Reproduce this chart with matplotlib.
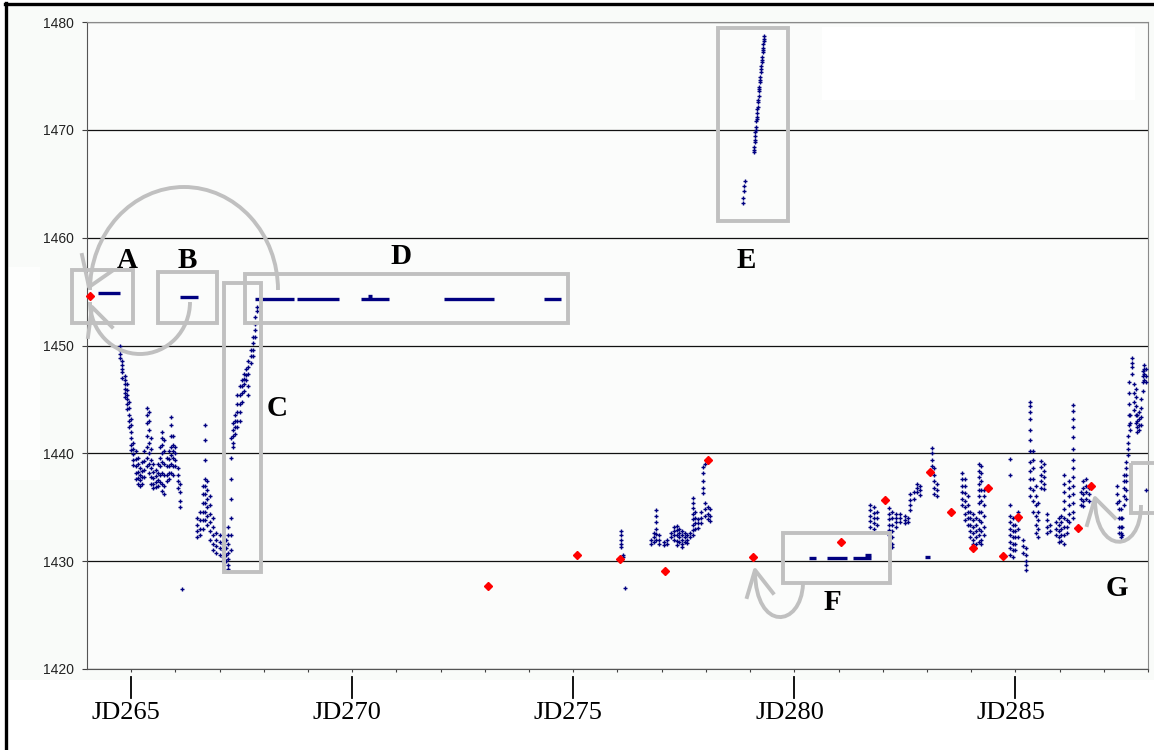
import matplotlib.pyplot as plt
from matplotlib.patches import Rectangle, Arc, PathPatch
from matplotlib.path import Path
from matplotlib.transforms import blended_transform_factory

# daily points (red diamonds)
red_x = [264.07, 273.06, 275.08, 276.05, 277.07, 278.05, 279.07, 281.06, 282.04,
         283.06, 283.54, 284.05, 284.39, 284.73, 285.07, 286.41, 286.70]
red_y = [1454.6, 1427.7, 1430.6, 1430.2, 1429.1, 1439.4, 1430.4, 1431.8, 1435.7,
         1438.3, 1434.6, 1431.2, 1436.8, 1430.5, 1434.1, 1433.1, 1437.0]

# flat runs of the blue series (A, B, D, F)
flat_start = [264.25, 266.11, 267.81, 268.74, 270.19, 270.35, 272.07, 274.33,
              280.34, 280.75, 281.33, 281.60, 282.96]
flat_end = [264.75, 266.52, 268.69, 269.69, 270.84, 270.45, 273.20, 274.72,
            280.50, 281.20, 281.74, 281.74, 283.07]
flat_level = [1454.9, 1454.5, 1454.3, 1454.3, 1454.3, 1454.6, 1454.3, 1454.3,
              1430.3, 1430.3, 1430.3, 1430.6, 1430.4]

# blue series, read column by column: (day, [values])
early_cols = [
    (264.75, [1450.0, 1449.6, 1449.2, 1448.8]),
    (264.80, [1448.6, 1448.2, 1447.8, 1447.5, 1447.0]),
    (264.85, [1447.2, 1446.8, 1446.4, 1446.0, 1445.6, 1445.2]),
    (264.90, [1446.4, 1445.9, 1445.4, 1445.0, 1444.6, 1444.1]),
    (264.95, [1444.8, 1444.2, 1443.6, 1443.0, 1442.4]),
    (265.00, [1443.2, 1442.6, 1442.0, 1441.4, 1440.8, 1440.3]),
    (265.05, [1441.0, 1440.4, 1439.9, 1439.4, 1438.9]),
    (265.10, [1440.2, 1439.5, 1438.8, 1438.2, 1437.6]),
    (265.15, [1439.6, 1439.0, 1438.3, 1437.7, 1437.2]),
    (265.20, [1438.6, 1438.0, 1437.5, 1437.0]),
    (265.25, [1439.2, 1438.4, 1437.8, 1437.2]),
    (265.30, [1440.2, 1439.3, 1438.5, 1437.8]),
    (265.35, [1444.2, 1443.6, 1442.8, 1441.6, 1440.6, 1439.6, 1438.8]),
    (265.40, [1443.8, 1443.0, 1442.2, 1441.0, 1440.0, 1439.0, 1438.2]),
    (265.45, [1441.4, 1440.4, 1439.4, 1438.6, 1437.8, 1437.2]),
    (265.50, [1439.0, 1438.3, 1437.7, 1437.2, 1436.8]),
    (265.55, [1438.5, 1437.9, 1437.3, 1436.9]),
    (265.60, [1439.0, 1438.2, 1437.5, 1437.0]),
    (265.65, [1440.6, 1439.6, 1438.8, 1438.0, 1437.3]),
    (265.70, [1442.0, 1441.4, 1440.8, 1440.0, 1439.2, 1438.2, 1437.2, 1436.5]),
    (265.75, [1441.2, 1440.2, 1439.0, 1438.0, 1437.0, 1436.2]),
    (265.80, [1439.6, 1438.8, 1438.0, 1437.4]),
    (265.85, [1440.2, 1439.5, 1438.8, 1438.2, 1437.6]),
    (265.90, [1443.4, 1442.6, 1441.6, 1440.6, 1439.8, 1439.0, 1438.2]),
    (265.95, [1441.6, 1440.8, 1440.2, 1439.6, 1438.8, 1438.0]),
    (266.00, [1440.6, 1440.0, 1439.4, 1438.8]),
    (266.05, [1438.6, 1438.0, 1437.4, 1436.8]),
    (266.10, [1437.2, 1436.4, 1435.6, 1435.0]),
    (266.14, [1427.4]),
    (266.48, [1434.0, 1433.4, 1432.8, 1432.2]),
    (266.55, [1434.6, 1433.8, 1433.0, 1432.4]),
    (266.62, [1437.0, 1436.2, 1435.4, 1434.6, 1433.8, 1433.0]),
    (266.67, [1442.6, 1441.2, 1439.4, 1437.6, 1437.0, 1436.2, 1435.4, 1434.6, 1433.8]),
    (266.72, [1437.4, 1436.6, 1435.8, 1435.0, 1434.2, 1433.4]),
    (266.78, [1436.0, 1435.2, 1434.4, 1433.6, 1432.8, 1432.0]),
    (266.85, [1434.0, 1433.2, 1432.4, 1431.6, 1431.0]),
    (266.92, [1432.6, 1432.0, 1431.4, 1430.8]),
    (267.00, [1432.4, 1431.8, 1431.2, 1430.6]),
    (267.07, [1431.6, 1431.0, 1430.4, 1430.0]),
    (267.14, [1432.0, 1431.2, 1430.6, 1430.0]),
    (267.20, [1433.2, 1432.4, 1431.6, 1430.8, 1430.2, 1429.6, 1429.3]),
    (267.26, [1441.4, 1439.6, 1437.6, 1435.8, 1434.0, 1432.4, 1431.0]),
    (267.30, [1442.8, 1442.2, 1441.6, 1441.0, 1440.6]),
    (267.35, [1443.6, 1443.0, 1442.4, 1441.8]),
    (267.40, [1445.4, 1444.6, 1443.8, 1443.0, 1442.4]),
    (267.45, [1446.2, 1445.4, 1444.6, 1443.8, 1443.0]),
    (267.50, [1446.8, 1446.2, 1445.6, 1444.8]),
    (267.55, [1447.4, 1446.9, 1446.4, 1445.8]),
    (267.60, [1447.8, 1447.3, 1446.8]),
    (267.65, [1448.6, 1448.0, 1447.4, 1446.2, 1445.4]),
    (267.70, [1449.6, 1449.0, 1448.4]),
    (267.75, [1450.8, 1450.2, 1449.6, 1449.0]),
    (267.80, [1452.6, 1452.0, 1451.4, 1450.8]),
    (267.84, [1453.6, 1453.2]),
]

mid_cols = [
    (276.08, [1432.8, 1432.4, 1432.0, 1431.6, 1431.3]),
    (276.12, [1430.6, 1430.4]),
    (276.17, [1427.5]),
    (276.75, [1432.0, 1431.6]),
    (276.82, [1432.6, 1432.2, 1431.8]),
    (276.87, [1434.7, 1434.2, 1433.6, 1433.0, 1432.5, 1432.0]),
    (276.95, [1432.4, 1432.0, 1431.6]),
    (277.05, [1431.8, 1431.5]),
    (277.12, [1432.0, 1431.6]),
    (277.22, [1432.6, 1432.2]),
    (277.28, [1433.2, 1432.8, 1432.4, 1432.0]),
    (277.34, [1433.3, 1432.9, 1432.4, 1431.9, 1431.5]),
    (277.40, [1433.0, 1432.6, 1432.2, 1431.8]),
    (277.46, [1432.8, 1432.4, 1432.0, 1431.6, 1431.3]),
    (277.52, [1432.6, 1432.2, 1431.8]),
    (277.58, [1432.4, 1432.0, 1431.7]),
    (277.64, [1432.6, 1432.2]),
    (277.71, [1435.9, 1435.4, 1434.9, 1434.4, 1433.9, 1433.4, 1432.9, 1432.4]),
    (277.76, [1434.6, 1434.0, 1433.5, 1433.0]),
    (277.82, [1433.9, 1433.5, 1433.1]),
    (277.88, [1434.6, 1434.0, 1433.5]),
    (277.94, [1438.7, 1438.2, 1437.4, 1436.8, 1436.3]),
    (277.98, [1439.0, 1435.4, 1434.8, 1434.2]),
    (278.04, [1435.0, 1434.4, 1433.9]),
    (278.10, [1434.8, 1434.2, 1433.7]),
]

# run E
e_x = [278.84, 278.85, 278.86, 278.87, 278.88,
       279.08, 279.085, 279.09, 279.10, 279.105, 279.11, 279.12, 279.125, 279.13,
       279.14, 279.145, 279.15, 279.16, 279.165, 279.17, 279.18, 279.185, 279.19,
       279.20, 279.205, 279.21, 279.22, 279.225, 279.23, 279.24, 279.245, 279.25,
       279.26, 279.265, 279.27, 279.28, 279.285, 279.29, 279.30, 279.305, 279.31,
       279.32]
e_y = [1463.2, 1463.7, 1464.3, 1464.8, 1465.3,
       1467.9, 1468.1, 1468.4, 1468.9, 1469.1, 1469.4, 1469.8, 1470.0, 1470.3,
       1470.8, 1471.0, 1471.2, 1471.6, 1471.9, 1472.1, 1472.6, 1472.8, 1473.1,
       1473.6, 1473.8, 1474.0, 1474.4, 1474.6, 1474.9, 1475.4, 1475.6, 1475.9,
       1476.3, 1476.5, 1476.8, 1477.2, 1477.4, 1477.6, 1478.0, 1478.2, 1478.4,
       1478.7]

late_cols = [
    (281.72, [1435.2, 1434.7, 1434.2, 1433.7, 1433.2]),
    (281.80, [1435.0, 1434.5, 1434.0, 1433.5, 1433.0]),
    (281.86, [1434.6, 1434.0, 1433.4]),
    (282.15, [1434.9, 1434.4, 1433.9, 1433.4, 1432.9, 1432.4]),
    (282.22, [1434.6, 1434.0, 1433.4, 1432.8, 1432.2, 1431.6, 1431.3]),
    (282.30, [1434.4, 1434.0, 1433.6, 1433.2]),
    (282.40, [1434.4, 1434.0, 1433.6]),
    (282.50, [1434.2, 1433.8, 1433.5]),
    (282.58, [1434.0, 1433.6]),
    (282.62, [1436.2, 1435.7, 1435.2, 1434.7]),
    (282.70, [1436.4, 1435.8]),
    (282.78, [1437.2, 1436.8, 1436.4]),
    (282.84, [1437.0, 1436.6, 1436.1]),
    (283.12, [1440.5, 1440.0, 1439.4, 1438.8]),
    (283.17, [1438.6, 1438.0, 1437.4, 1436.8, 1436.2]),
    (283.22, [1437.2, 1436.6, 1436.0]),
    (283.80, [1438.2, 1437.6, 1437.0, 1436.4, 1435.8, 1435.2]),
    (283.86, [1437.6, 1437.0, 1436.3, 1435.6, 1435.0, 1434.4, 1433.8]),
    (283.92, [1436.0, 1435.2, 1434.6, 1434.0, 1433.4]),
    (283.98, [1434.6, 1434.0, 1433.4, 1432.8, 1432.2]),
    (284.04, [1434.4, 1433.8, 1433.2, 1432.6, 1432.0, 1431.6]),
    (284.10, [1434.0, 1433.4, 1432.8, 1432.2, 1431.6]),
    (284.18, [1439.0, 1438.4, 1437.8, 1437.2, 1436.6, 1436.0, 1435.4, 1434.6,
              1433.8, 1433.0, 1432.4, 1431.8]),
    (284.23, [1438.8, 1438.2, 1437.4, 1436.6, 1435.6, 1434.6, 1433.6, 1432.8,
              1432.0, 1431.6]),
    (284.28, [1436.6, 1436.0, 1435.2, 1434.2, 1433.2, 1432.4]),
    (284.88, [1439.5, 1438.0, 1435.2, 1434.2, 1433.6, 1433.0, 1432.4, 1431.8,
              1431.2, 1430.6]),
    (284.94, [1434.0, 1433.4, 1432.8, 1432.2, 1431.6, 1431.0, 1430.4]),
    (285.00, [1433.4, 1432.8, 1432.2, 1431.6, 1431.0]),
    (285.06, [1434.6, 1433.8, 1433.0, 1432.2]),
    (285.18, [1432.0, 1431.4, 1430.8]),
    (285.24, [1431.2, 1430.6, 1430.0, 1429.6, 1429.2]),
    (285.34, [1444.8, 1444.4, 1443.8, 1443.2, 1442.2, 1441.2, 1440.2, 1439.2,
              1438.4, 1437.6, 1436.8, 1436.0]),
    (285.40, [1440.2, 1439.4, 1438.6, 1437.6, 1436.6, 1435.6, 1434.6]),
    (285.46, [1437.0, 1436.0, 1435.2, 1434.2, 1433.4, 1432.6]),
    (285.52, [1435.4, 1434.6, 1433.8, 1433.0, 1432.2]),
    (285.58, [1439.3, 1438.7, 1438.0, 1437.4, 1436.8]),
    (285.64, [1439.0, 1438.4, 1437.8, 1437.2, 1436.7]),
    (285.72, [1434.4, 1433.8, 1433.2, 1432.6]),
    (285.78, [1433.4, 1432.8]),
    (285.92, [1433.6, 1433.0, 1432.4]),
    (285.98, [1434.0, 1433.4, 1432.8, 1432.2, 1431.8]),
    (286.04, [1434.2, 1433.6, 1433.0, 1432.4, 1431.9]),
    (286.10, [1438.0, 1437.2, 1436.4, 1435.6, 1434.8, 1434.0, 1433.2, 1432.4, 1431.6]),
    (286.16, [1433.8, 1433.2, 1432.6]),
    (286.22, [1437.4, 1436.8, 1436.0, 1435.2, 1434.4, 1433.6]),
    (286.31, [1444.5, 1443.9, 1443.2, 1442.4, 1441.5, 1440.4, 1439.4, 1438.6,
              1437.8, 1437.0, 1436.2, 1435.4, 1434.6, 1434.0]),
    (286.48, [1436.4, 1435.8, 1435.2]),
    (286.54, [1437.4, 1436.8, 1436.2, 1435.6, 1435.1]),
    (286.60, [1437.6, 1437.0, 1436.4, 1435.8]),
    (286.66, [1436.8, 1436.2, 1435.6]),
    (287.30, [1437.0, 1436.2, 1435.4]),
    (287.34, [1435.6, 1434.8, 1434.0, 1433.2, 1432.6]),
    (287.38, [1434.8, 1434.0, 1433.2, 1432.6, 1432.2]),
    (287.42, [1434.0, 1433.2, 1432.4]),
    (287.46, [1438.0, 1437.4, 1436.8, 1436.0, 1435.2]),
    (287.50, [1439.2, 1438.6, 1438.0, 1437.4, 1436.6, 1435.8]),
    (287.54, [1441.6, 1441.0, 1440.4, 1439.8]),
    (287.56, [1446.6, 1445.6, 1444.6, 1443.6, 1442.6]),
    (287.60, [1443.6, 1442.8, 1442.2]),
    (287.64, [1448.8, 1448.4, 1448.0, 1447.4]),
    (287.68, [1446.4, 1445.6, 1444.8, 1444.0]),
    (287.72, [1446.0, 1445.2, 1444.4, 1443.6, 1442.8]),
    (287.76, [1443.6, 1443.0, 1442.4, 1442.0]),
    (287.80, [1443.8, 1443.2, 1442.6, 1442.2]),
    (287.84, [1445.0, 1444.2, 1443.4, 1442.6]),
    (287.88, [1447.6, 1447.2, 1446.6, 1445.8]),
    (287.92, [1448.2, 1447.8, 1447.4, 1446.8]),
    (287.95, [1436.6]),
    (287.96, [1447.8, 1447.2, 1446.6]),
]

jd_ticks = [265, 270, 275, 280, 285]
jd_labels = ['JD265', 'JD270', 'JD275', 'JD280', 'JD285']
y_ticks = [1420, 1430, 1440, 1450, 1460, 1470, 1480]

blue_x, blue_y = [], []
for x, ys in early_cols + mid_cols + late_cols:
    for y in ys:
        blue_x.append(x)
        blue_y.append(y)
blue_x += e_x
blue_y += e_y

W, H = 1154, 750
fig = plt.figure(figsize=(W / 100, H / 100), dpi=100, facecolor='white')

# background of the pasted chart
bg = fig.add_axes([0, 0, 1, 1], zorder=0)
bg.set_xlim(0, W)
bg.set_ylim(H, 0)
bg.axis('off')
bg.add_patch(Rectangle((8, 6), W - 8, 674, facecolor='#F9FBF9', edgecolor='none'))
bg.add_patch(Rectangle((8, 267), 32, 213, facecolor='#FDFEFD', edgecolor='none'))
bg.plot([6, 6], [3, H], color='black', lw=2.4)
bg.plot([5, W], [4, 4], color='black', lw=2.4)

ax = fig.add_axes([87 / W, (H - 669) / H, (1148 - 87) / W, (669 - 22) / H], zorder=1)
ax.set_facecolor('#FBFCFB')
ax.set_xlim(264, 288)
ax.set_ylim(1420, 1480)

ax.set_yticks(y_ticks)
ax.yaxis.grid(True, color='#111111', lw=0.9)
ax.set_axisbelow(True)
ax.set_xticks(range(265, 289))
ax.set_xticklabels([])
ax.tick_params(axis='x', direction='out', length=2.5, color='#404040')
ax.tick_params(axis='y', direction='out', length=3.5, pad=6, color='#404040',
               labelsize=10, labelcolor='#222222')
for lab in ax.get_yticklabels():
    lab.set_fontfamily('Liberation Sans')
for side in ['left', 'bottom']:
    ax.spines[side].set_color('#555555')
for side in ['right', 'top']:
    ax.spines[side].set_color('#8a8a8a')

ax.hlines(flat_level, flat_start, flat_end, color='#000080', lw=2.4, zorder=3)
ax.plot(blue_x, blue_y, linestyle='none', marker='+', markersize=3.4, mew=1,
        color='#000080', zorder=3)
ax.plot(red_x, red_y, linestyle='none', marker='D', markersize=4.5,
        color='#FF0000', mec='#FF0000', zorder=4, clip_on=False)

# overlay for the hand-drawn notes (pixel coordinates)
ov = fig.add_axes([0, 0, 1, 1], zorder=2)
ov.set_xlim(0, W)
ov.set_ylim(H, 0)
ov.axis('off')
ov.patch.set_alpha(0)

ov.add_patch(Rectangle((822, 27), 313, 73, facecolor='white', edgecolor='none', zorder=0))

grey = '#C0C0C0'
boxes = [(72, 270, 61, 53), (158, 272, 59, 51), (224, 283, 37, 289),
         (245, 274, 323, 49), (718, 28, 70, 193), (783, 533, 107, 50),
         (1131, 463, 40, 50)]
for bx, by, bw, bh in boxes:
    ov.add_patch(Rectangle((bx, by), bw, bh, fill=False, edgecolor=grey, lw=2.8))

ov.add_patch(Arc((184, 290), 188, 206, theta1=180, theta2=360, color=grey, lw=2.8))
ov.plot([82, 89, 112], [255, 287, 271], color=grey, lw=2.8)
ov.add_patch(Arc((140, 302), 100, 104, theta1=0, theta2=180, color=grey, lw=2.8))
ov.plot([88, 92, 112], [337, 307, 327], color=grey, lw=2.8)

f_path = Path([(803, 584), (801, 628), (756, 632), (755, 572)],
              [Path.MOVETO, Path.CURVE4, Path.CURVE4, Path.CURVE4])
ov.add_patch(PathPatch(f_path, fill=False, edgecolor=grey, lw=2.8))
ov.plot([747, 755, 773], [597, 570, 593], color=grey, lw=2.8)

g_path = Path([(1141, 505), (1141, 555), (1095, 555), (1095, 499)],
              [Path.MOVETO, Path.CURVE4, Path.CURVE4, Path.CURVE4])
ov.add_patch(PathPatch(g_path, fill=False, edgecolor=grey, lw=2.8))
ov.plot([1087, 1095, 1115], [525, 498, 518], color=grey, lw=2.8)

letters = ['A', 'B', 'C', 'D', 'E', 'F', 'G']
letter_pos = [(127, 260), (187, 260), (277, 408), (401, 256), (746, 261),
              (832, 603), (1117, 588)]
for s, (lx, ly) in zip(letters, letter_pos):
    ov.text(lx, ly, s, fontsize=21, fontweight='bold', family='Liberation Serif',
            ha='center', va='center', color='black')

# JD marks under the axis
tr = blended_transform_factory(ax.transData, ov.transData)
for t, lab in zip(jd_ticks, jd_labels):
    ov.plot([t, t], [677, 698], color='black', lw=1.3, transform=tr, clip_on=False)
    ax.text(t - 0.11, 719, lab, transform=tr, fontsize=19, family='Liberation Serif',
            ha='center', va='baseline', color='black')

fig.savefig('out.png', dpi=100, facecolor=fig.get_facecolor())
